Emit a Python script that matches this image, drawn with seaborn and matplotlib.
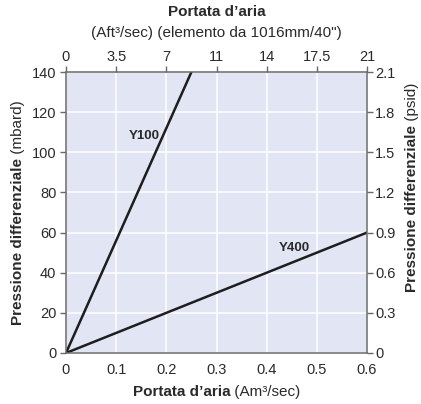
import matplotlib
matplotlib.use("Agg")
import matplotlib.pyplot as plt
import seaborn as sns
import pandas as pd

# ---- data ----
series_names = ["Y100", "Y400"]
flow_m3s = [0.0, 0.25, 0.0, 0.6]          # x endpoints per series
pressure_mbar = [0.0, 140.0, 0.0, 60.0]   # y endpoints per series
series_col = ["Y100", "Y100", "Y400", "Y400"]
label_x = [0.155, 0.455]
label_y = [108, 52.5]

x_ticks = [0, 0.1, 0.2, 0.3, 0.4, 0.5, 0.6]
x_ticklabels = ["0", "0.1", "0.2", "0.3", "0.4", "0.5", "0.6"]
top_ticklabels = ["0", "3.5", "7", "11", "14", "17.5", "21"]
y_ticks = [0, 20, 40, 60, 80, 100, 120, 140]
right_ticklabels = ["0", "0.3", "0.6", "0.9", "1.2", "1.5", "1.8", "2.1"]

df = pd.DataFrame({"flow": flow_m3s, "pressure": pressure_mbar, "series": series_col})

sns.set_theme(style="darkgrid")
plt.rcParams["font.family"] = ["Liberation Sans", "DejaVu Sans"]

fig = plt.figure(figsize=(4.21, 4.04), dpi=100)
ax = fig.add_axes([66 / 421, 1 - 353 / 404, 301 / 421, 281 / 404])
ax.set_facecolor("#E2E5F3")

sns.lineplot(data=df, x="flow", y="pressure", hue="series", units="series",
             estimator=None, palette=["#1e1e1e", "#1e1e1e"], linewidth=1.8,
             legend=False, ax=ax, sort=False)

ax.set_xlim(0, 0.6)
ax.set_ylim(0, 140)
ax.set_xticks(x_ticks)
ax.set_xticklabels(x_ticklabels)
ax.set_yticks(y_ticks)
ax.grid(True, color="white", linewidth=1.1)
ax.set_xlabel("")
ax.set_ylabel("")

txtc = "#2a2a2a"
spc = "#6a6a6a"
fs = 10.5
for s in ax.spines.values():
    s.set_visible(True)
    s.set_color(spc)
    s.set_linewidth(1.1)

ax.tick_params(axis="x", bottom=False, top=False, labeltop=False, length=0, pad=7,
               labelsize=fs, labelcolor=txtc)
ax.tick_params(axis="y", left=True, right=False, labelright=False, length=4, width=1,
               color=spc, pad=3, labelsize=fs, labelcolor=txtc, direction="out")

# Top axis labels (secondary scale)
ax_top = ax.twiny()
ax_top.set_xlim(ax.get_xlim())
ax_top.set_xticks(x_ticks)
ax_top.set_xticklabels(top_ticklabels)
ax_top.tick_params(axis="x", top=True, bottom=False, labeltop=True, labelbottom=False,
                   length=4, width=1, color=spc, pad=2, labelsize=fs, labelcolor=txtc)
ax_top.grid(False)
for s in ax_top.spines.values():
    s.set_visible(False)

# Right axis labels (secondary scale)
ax_r = ax.twinx()
ax_r.set_ylim(ax.get_ylim())
ax_r.set_yticks(y_ticks)
ax_r.set_yticklabels(right_ticklabels)
ax_r.tick_params(axis="y", right=True, left=False, labelright=True, labelleft=False,
                 length=4, width=1, color=spc, pad=2, labelsize=fs, labelcolor=txtc)
ax_r.grid(False)
for s in ax_r.spines.values():
    s.set_visible(False)

# series labels
for nm, lx, ly in zip(series_names, label_x, label_y):
    ax.text(lx, ly, nm, ha="center", va="center", fontsize=9.5, fontweight="bold",
            color=txtc)

# ---- mixed bold/regular axis labels ----
fig.canvas.draw()
r = fig.canvas.get_renderer()

def hlabel(cx, cy, bold, reg, size=11):
    t1 = fig.text(0, 0, bold, fontsize=size, fontweight="bold", color=txtc,
                  ha="left", va="center", transform=None)
    t2 = fig.text(0, 0, reg, fontsize=size, color=txtc, ha="left", va="center",
                  transform=None)
    w1 = t1.get_window_extent(r).width
    w2 = t2.get_window_extent(r).width
    x0 = cx - (w1 + w2) / 2
    t1.set_position((x0, cy))
    t2.set_position((x0 + w1, cy))

def vlabel(cx, cy, bold, reg, size=11):
    t1 = fig.text(0, 0, bold, fontsize=size, fontweight="bold", color=txtc,
                  ha="center", va="bottom", rotation=90, transform=None)
    t2 = fig.text(0, 0, reg, fontsize=size, color=txtc, ha="center", va="bottom",
                  rotation=90, transform=None)
    h1 = t1.get_window_extent(r).height
    h2 = t2.get_window_extent(r).height
    y0 = cy - (h1 + h2) / 2
    t1.set_position((cx, y0))
    t2.set_position((cx, y0 + h1))

H = 404
hlabel(216.5, H - 392, "Portata d\u2019aria", " (Am\u00b3/sec)")
fig.text(216.5 / 421, 1 - 12 / H, "Portata d\u2019aria", fontsize=11, fontweight="bold",
         color=txtc, ha="center", va="center")
fig.text(216.5 / 421, 1 - 33 / H, "(Aft\u00b3/sec) (elemento da 1016mm/40\")", fontsize=11,
         color=txtc, ha="center", va="center")
vlabel(18, H - 212.5, "Pressione differenziale", " (mbard)")
vlabel(412, H - 187, "Pressione differenziale", " (psid)")

fig.savefig("out.png", dpi=100)
